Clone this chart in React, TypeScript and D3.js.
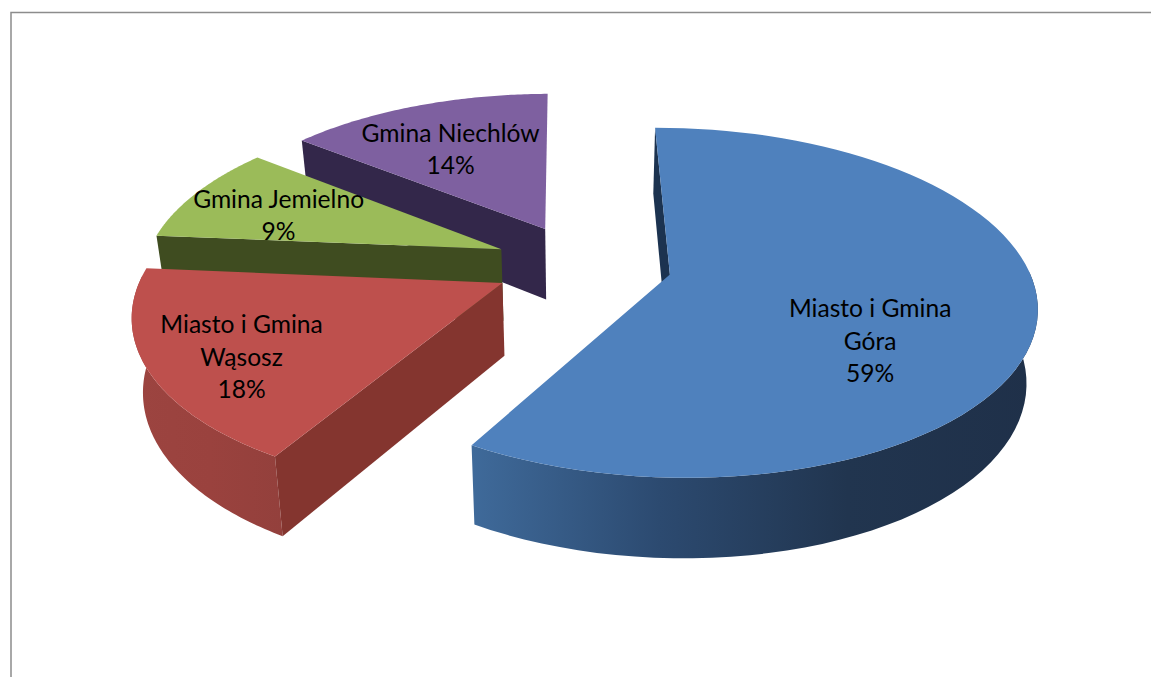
import { useEffect, useRef } from 'react'
import * as d3 from 'd3'

const names = [
  ['Miasto i Gmina', 'Góra'],
  ['Miasto i Gmina', 'Wąsosz'],
  ['Gmina Jemielno'],
  ['Gmina Niechlów'],
]
const shares = [58.6, 17.9, 9.3, 14.2]

const topColors = ['#4F81BD', '#BE504D', '#9BBB59', '#7E60A0']
const sideColors = ['#1C3350', '#84352F', '#3F4C20', '#33274A']

const width = 1151
const height = 677

// pseudo perspective of the tilted pie, in unit disc coordinates
const explode = 0.242
const tilt = 0.16
const depthTilt = 0.1
const rimWidth = 0.97
const wallDepth = 72
const wallShrink = 0.975
const firstAngle = (-0.5 * Math.PI) / 180
const labelReach = 0.6
// nudges of the labels away from the slice centroid
const labelNudge = [
  [-23, 40],
  [-48, 25],
  [-30, 1.5],
  [-11, -1.5],
]

export default function App() {
  const svgRef = useRef<SVGSVGElement>(null)

  useEffect(() => {
    if (!svgRef.current) return

    const svg = d3.select(svgRef.current)
    svg.selectAll('*').remove()

    // Frame, open on the right and at the bottom
    svg
      .append('path')
      .attr('d', `M11,${height}V12.5H${width}`)
      .attr('fill', 'none')
      .attr('stroke', '#8C8C8C')
      .attr('stroke-width', 1.5)

    const xScale = d3.scaleLinear().domain([-1, 1]).range([215, 951])
    const yScale = d3.scaleLinear().domain([-1, 1]).range([431, 97])

    const project = (u: number, v: number, low = false) => {
      const s = 1 / (1 + tilt * v)
      const shrink = low ? wallShrink : 1
      return [
        xScale(u * s * shrink),
        yScale(v * s) + (low ? wallDepth / (1 + depthTilt * v) : 0),
      ] as [number, number]
    }

    const arcs = d3
      .pie<number>()
      .sort(null)
      .value((d) => d)
      .startAngle(firstAngle)
      .endAngle(firstAngle + Math.PI * 2)(shares)

    const polygon = d3.line().curve(d3.curveLinearClosed)

    // Rim shading runs left to right across each slice
    const defs = svg.append('defs')
    const addShade = (id: string, x1: number, x2: number, stops: string[]) => {
      const gradient = defs
        .append('linearGradient')
        .attr('id', id)
        .attr('gradientUnits', 'userSpaceOnUse')
        .attr('x1', x1)
        .attr('x2', x2)
        .attr('y1', 0)
        .attr('y2', 0)
      stops.forEach((color, i) => {
        gradient
          .append('stop')
          .attr('offset', i / (stops.length - 1))
          .attr('stop-color', color)
      })
    }
    addShade('rim0', 472, 1035, ['#3F6A9A', '#2C4A70', '#21354F', '#1F3049'])
    addShade('rim1', 135, 285, ['#9C4440', '#9A423E', '#93403C'])

    const drawOrder = [3, 2, 1, 0]
    drawOrder.forEach((i) => {
      const { startAngle, endAngle } = arcs[i]
      const mid = (startAngle + endAngle) / 2
      const ou = explode * Math.sin(mid)
      const ov = explode * Math.cos(mid)
      const steps = d3.range(0, 81).map((k) => startAngle + ((endAngle - startAngle) * k) / 80)
      const rim = (angles: number[], low: boolean) =>
        angles.map((a) => project(ou + rimWidth * Math.sin(a), ov + Math.cos(a), low))

      const apexTop = project(ou, ov)
      const apexLow = project(ou, ov, true)
      const rimTop = rim(steps, false)
      const rimLow = rim(steps, true)

      const g = svg.append('g').attr('class', `slice-${i}`)

      // Outer wall only on the front half of the disc
      const front = steps.filter((a) => Math.cos(a) < 0.05)
      if (front.length > 1) {
        g.append('path')
          .attr('d', polygon([...rim(front, false), ...rim(front, true).reverse()]))
          .attr('fill', `url(#rim${i})`)
      }

      // Cut wall facing the viewer, the top last
      g.append('path')
        .attr('d', polygon([apexTop, rimTop[0], rimLow[0], apexLow]))
        .attr('fill', sideColors[i])

      g.append('path')
        .attr('d', polygon([apexTop, ...rimTop]))
        .attr('fill', topColors[i])
    })

    // Labels sit above every slice
    arcs.forEach((d, i) => {
      const mid = (d.startAngle + d.endAngle) / 2
      const reach = explode + labelReach
      const [x, y] = project(reach * Math.sin(mid), reach * Math.cos(mid))
      const lines = [...names[i], `${Math.round(shares[i])}%`]
      const lineHeight = 32.5
      const text = svg
        .append('text')
        .attr('text-anchor', 'middle')
        .attr('font-family', 'Lato, "Open Sans", sans-serif')
        .attr('font-size', 24.6)
        .attr('fill', '#000')
      lines.forEach((line, k) => {
        text
          .append('tspan')
          .attr('x', x + labelNudge[i][0])
          .attr('y', y + labelNudge[i][1] + (k - (lines.length - 1) / 2) * lineHeight + 8)
          .text(line)
      })
    })
  }, [])

  return (
    <svg
      ref={svgRef}
      width={width}
      height={height}
      style={{ position: 'absolute', left: 0, top: 0, background: '#fff' }}
    />
  )
}
